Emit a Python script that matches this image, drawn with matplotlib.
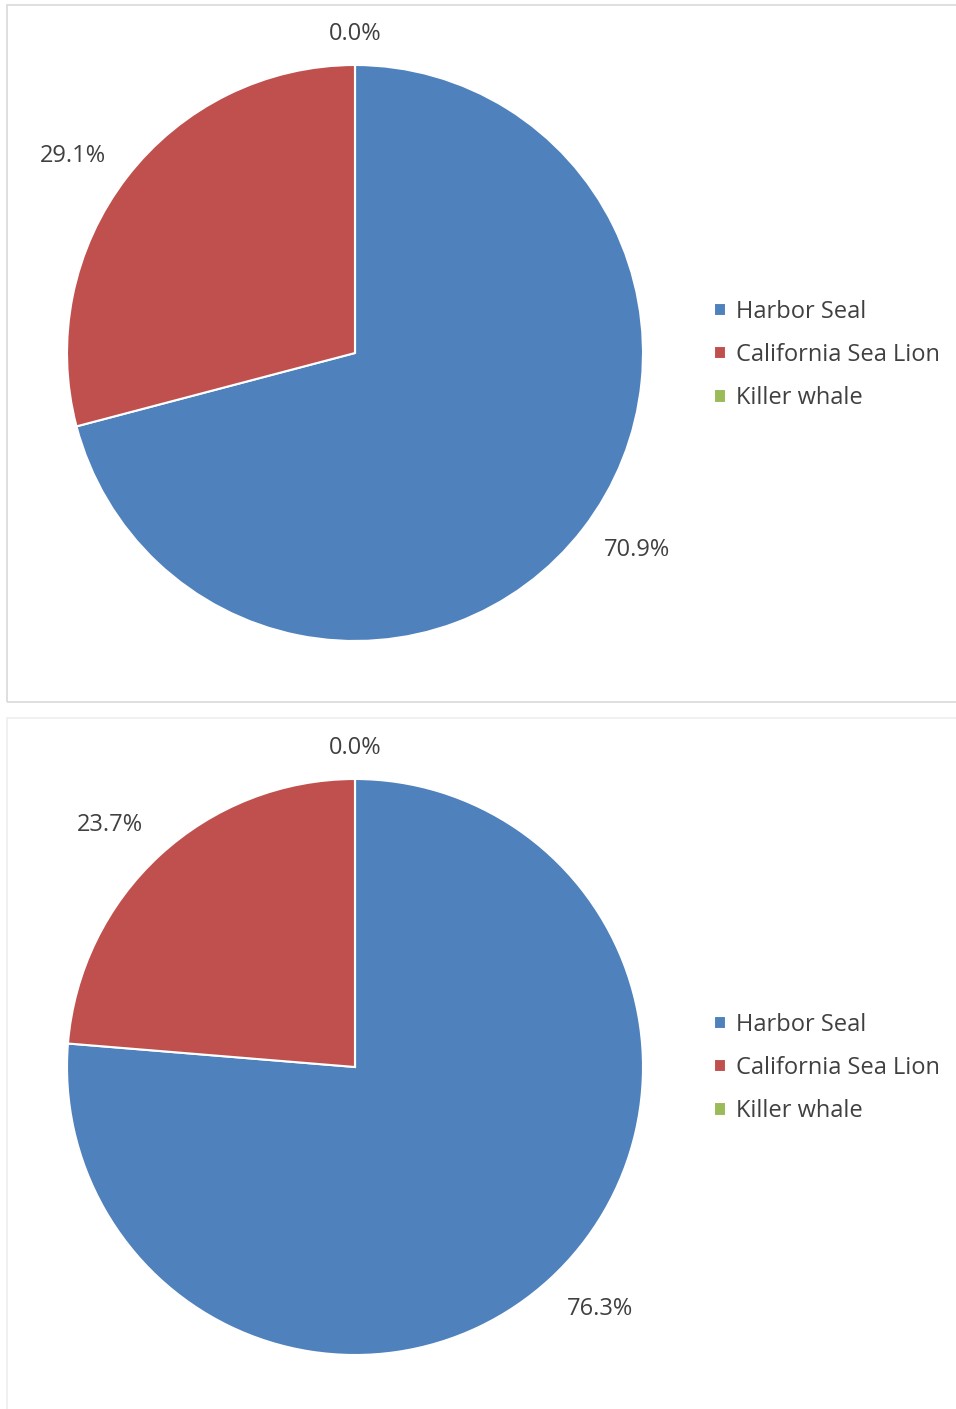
import matplotlib
matplotlib.use("Agg")
import matplotlib.pyplot as plt
from matplotlib.patches import Rectangle
import numpy as np

categories = ["Harbor Seal", "California Sea Lion", "Killer whale"]
values_top = [70.9, 29.1, 0.0]
values_bottom = [76.3, 23.7, 0.0]
colors = ["#4F81BD", "#C0504D", "#9BBB59"]

plt.rcParams['font.family'] = ['Open Sans', 'DejaVu Sans']
TXT = "#404040"
FS = 17

W, H = 956, 1409
fig = plt.figure(figsize=(W / 100, H / 100), dpi=100)

def fx(x):
    return x / W

def fy(y):
    return 1 - y / H

# panel borders
fig.add_artist(Rectangle((fx(7), fy(702)), fx(960) - fx(7), fy(5) - fy(702),
                         transform=fig.transFigure, fill=False,
                         edgecolor="#D9D9D9", linewidth=1.2))
fig.add_artist(Rectangle((fx(7), fy(1415)), fx(960) - fx(7), fy(718) - fy(1415),
                         transform=fig.transFigure, fill=False,
                         edgecolor="#EDEDED", linewidth=1.2))

def draw(values, cy, leg_top):
    R = 288
    cx = 355
    ax = fig.add_axes([fx(cx - R), fy(cy + R), (2 * R) / W, (2 * R) / H])
    wedges, texts, autotexts = ax.pie(
        values, colors=colors, startangle=90, counterclock=False,
        radius=1.0, autopct="%1.1f%%", pctdistance=1.19,
        wedgeprops=dict(edgecolor="white", linewidth=1.5),
        textprops=dict(color=TXT, fontsize=FS))
    for v, t in zip(values, autotexts):
        x, y = t.get_position()
        if v == 0:
            t.set_position((x * 0.93, y * 0.93))
        else:
            # best-fit style nudge: slight counter-clockwise shift
            ang = np.arctan2(y, x) + np.deg2rad(2.7)
            r = 1.195
            t.set_position((r * np.cos(ang), r * np.sin(ang)))
    ax.set_xlim(-1, 1)
    ax.set_ylim(-1, 1)
    ax.set_aspect("equal")
    ax.axis("off")
    fig.legend(wedges, categories, loc="upper left",
               bbox_to_anchor=(fx(714), fy(leg_top)),
               frameon=False, fontsize=FS, labelcolor=TXT,
               handlelength=0.5, handleheight=0.5, handletextpad=0.45,
               labelspacing=0.81, borderaxespad=0, borderpad=0)

draw(values_top, 353, 300)
draw(values_bottom, 1067, 1013)

fig.savefig("out.png", dpi=100)
